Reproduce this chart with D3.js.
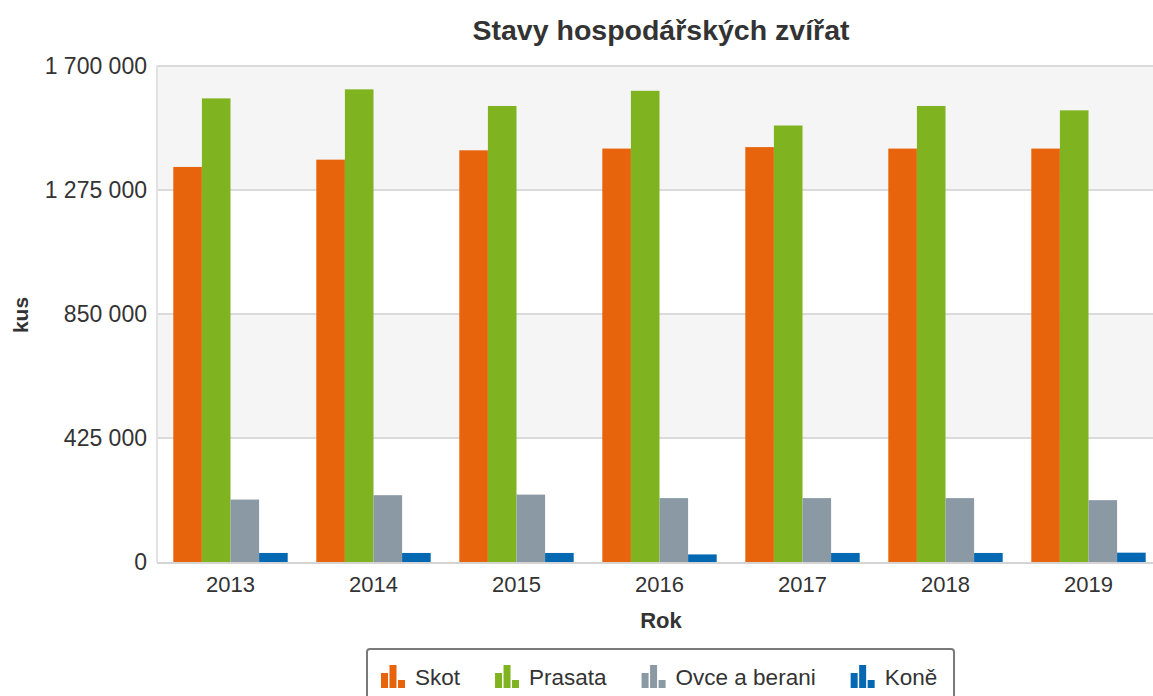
<!DOCTYPE html>
<html>
<head>
<meta charset="utf-8">
<script src="https://cdn.jsdelivr.net/npm/d3@7"></script>
<style>
  body { margin: 0; background: #fff; }
  svg { display: block; font-family: "Liberation Sans", Arial, sans-serif; }
</style>
</head>
<body>
<div id="chart"></div>
<script>
const years = ['2013', '2014', '2015', '2016', '2017', '2018', '2019'];
const seriesNames = ['Skot', 'Prasata', 'Ovce a berani', 'Koně'];
const seriesColors = ['#e8640c', '#7fb31f', '#8a99a3', '#0568b3'];

const skot = [1354000, 1379000, 1411000, 1417000, 1422000, 1417000, 1417000];
const prasata = [1589000, 1620000, 1563000, 1615000, 1496000, 1563000, 1548000];
const ovce = [214000, 229000, 231000, 219000, 219000, 219000, 212000];
const kone = [31000, 31000, 31000, 26000, 31000, 31000, 32000];

const yTicks = [0, 425000, 850000, 1275000, 1700000];

const W = 1153, H = 696;
const m = {t:66, r:-7, b:134, l:159};

const svg = d3.select('#chart')
  .append('svg')
  .attr('width', W)
  .attr('height', H);

const values = [skot, prasata, ovce, kone];
const rows = years.map((y, i) => ({year: y, vals: values.map(v => v[i])}));

const x = d3.scaleBand()
  .domain(years)
  .range([m.l, W - m.r])
  .paddingInner(0.2)
  .paddingOuter(0.1);

const xs = d3.scaleBand()
  .domain(seriesNames)
  .range([0, x.bandwidth()]);

const y = d3.scaleLinear()
  .domain([0, 1700000])
  .range([H - m.b, m.t]);

// alternating bands
const bands = svg.append('g');
for (let i = 0; i < yTicks.length - 1; i++) {
  bands.append('rect')
    .attr('x', m.l - 2)
    .attr('y', y(yTicks[i+1]))
    .attr('width', W - m.l + 2)
    .attr('height', y(yTicks[i]) - y(yTicks[i+1]))
    .attr('fill', i % 2 === 1 ? '#f5f5f5' : '#fff');
}

// gridlines
svg.append('g')
  .selectAll('line')
  .data(yTicks.slice(1))
  .enter()
  .append('line')
  .attr('x1', m.l - 2)
  .attr('x2', W)
  .attr('y1', d => y(d))
  .attr('y2', d => y(d))
  .attr('stroke', '#dadada')
  .attr('stroke-width', 2);

// left axis line
svg.append('line')
  .attr('x1', m.l - 2).attr('x2', m.l - 2)
  .attr('y1', y(1700000) - 1).attr('y2', y(0))
  .attr('stroke', '#e2e2e2')
  .attr('stroke-width', 2);

// bars
const groups = svg.append('g')
  .selectAll('g')
  .data(rows)
  .enter()
  .append('g')
  .attr('transform', d => `translate(${x(d.year)},0)`);

groups.selectAll('rect')
  .data(d => d.vals.map((v, i) => ({name: seriesNames[i], v: v, c: seriesColors[i]})))
  .enter()
  .append('rect')
  .attr('x', d => xs(d.name))
  .attr('y', d => y(d.v))
  .attr('width', xs.bandwidth())
  .attr('height', d => y(0) - y(d.v))
  .attr('fill', d => d.c);

// baseline
svg.append('line')
  .attr('x1', m.l - 2).attr('x2', W)
  .attr('y1', y(0) + 1).attr('y2', y(0) + 1)
  .attr('stroke', '#d4d4d4')
  .attr('stroke-width', 2);

// y tick labels
const fmt = d => d3.format(',')(d).replace(/,/g, ' ');
svg.append('g')
  .selectAll('text')
  .data(yTicks)
  .enter()
  .append('text')
  .attr('x', 147)
  .attr('y', d => y(d))
  .attr('dy', '0.36em')
  .attr('text-anchor', 'end')
  .attr('font-size', 23)
  .attr('fill', '#333')
  .text(fmt);

// x tick labels
svg.append('g')
  .selectAll('text')
  .data(years)
  .enter()
  .append('text')
  .attr('x', d => x(d) + x.bandwidth() / 2)
  .attr('y', 592)
  .attr('text-anchor', 'middle')
  .attr('font-size', 22)
  .attr('fill', '#333')
  .text(d => d);

// title and axis titles
svg.append('text')
  .attr('x', 661).attr('y', 40)
  .attr('text-anchor', 'middle')
  .attr('font-size', 28.5)
  .attr('font-weight', 'bold')
  .attr('fill', '#333')
  .text('Stavy hospodářských zvířat');

svg.append('text')
  .attr('x', 661).attr('y', 628)
  .attr('text-anchor', 'middle')
  .attr('font-size', 22)
  .attr('font-weight', 'bold')
  .attr('fill', '#333')
  .text('Rok');

svg.append('text')
  .attr('transform', 'translate(28,315) rotate(-90)')
  .attr('text-anchor', 'middle')
  .attr('font-size', 21)
  .attr('font-weight', 'bold')
  .attr('fill', '#333')
  .text('kus');

// legend
const legend = svg.append('g');
legend.append('rect')
  .attr('x', 367).attr('y', 649)
  .attr('width', 587).attr('height', 60)
  .attr('rx', 3)
  .attr('fill', '#fff')
  .attr('stroke', '#7a7a7a')
  .attr('stroke-width', 2);

let lx = 380;
seriesNames.forEach((name, i) => {
  const g = legend.append('g').attr('transform', `translate(${lx},0)`);
  const heights = [15, 23, 8];
  heights.forEach((hh, j) => {
    g.append('rect')
      .attr('x', 1 + j * 8.5)
      .attr('y', 688 - hh)
      .attr('width', 7)
      .attr('height', hh)
      .attr('fill', seriesColors[i]);
  });
  const t = g.append('text')
    .attr('x', 35)
    .attr('y', 685)
    .attr('font-size', 22.5)
    .attr('fill', '#333')
    .text(name);
  lx += 35 + t.node().getComputedTextLength() + 34;
});
</script>
</body>
</html>
